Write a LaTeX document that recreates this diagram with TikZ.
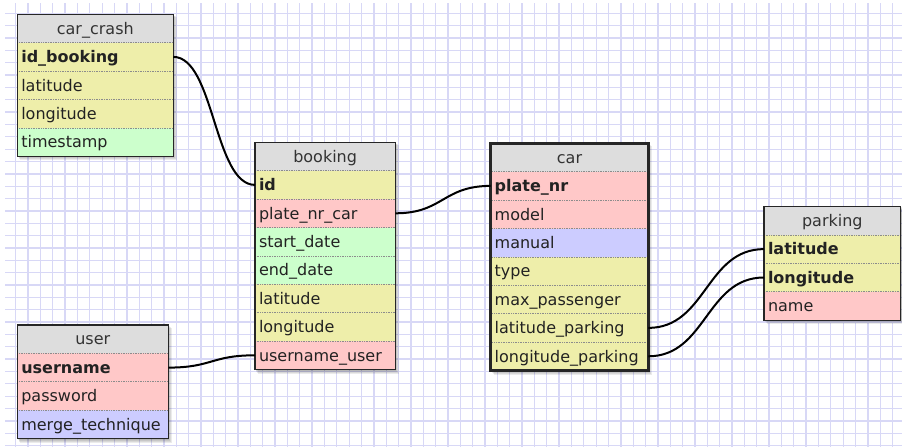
\documentclass[tikz,border=0pt]{standalone}
\usepackage{fontspec}
\setmainfont{DejaVu Sans}
\definecolor{yel}{HTML}{EEEEAA}
\definecolor{pnk}{HTML}{FFC8C8}
\definecolor{grn}{HTML}{CCFFCC}
\definecolor{blu}{HTML}{CCCCFF}
\definecolor{hdrc}{HTML}{DDDDDD}
\definecolor{gridc}{HTML}{D8D8F6}
\definecolor{txt}{HTML}{222222}
\tikzset{
  cellbase/.style={anchor=north west, inner xsep=4pt, inner ysep=0pt, outer sep=0pt,
    minimum height=28.4pt, text height=11.4pt, text depth=0pt,
    font=\fontsize{16}{18}\selectfont, text=txt},
  hdr/.style={cellbase, fill=hdrc, align=center, text=black!80},
  rowbox/.style={cellbase, align=left},
  sepline/.style={densely dotted, draw=black!45, line width=0.7pt},
  gridline/.style={draw=gridc, line width=1.3pt},
  rel/.style={draw=black, line width=2pt},
}
% #1 id, #2 x, #3 y, #4 width, #5 title, #6 nrows, #7 rows, #8 border width
\newcommand{\erTable}[8]{%
  \foreach \k in {1,...,4}{%
    \fill[black,opacity=0.08] ({#2+\k*0.7},{#3+\k*0.7}) rectangle ({#2+#4+\k},{#3+(#6+1)*28.4+\k});
  }
  \pgfmathsetmacro\tw{#4-8}
  \node[hdr, minimum width=#4 pt, text width=\tw pt] (#1-0) at (#2,#3) {#5};
  \foreach \clr/\lbl [count=\i] in {#7}{%
    \node[rowbox, fill=\clr, minimum width=#4 pt, text width=\tw pt] (#1-\i) at (#2,{#3+\i*28.4}) {\lbl};
    \draw[sepline] (#1-\i.north west) -- (#1-\i.north east);
  }
  \draw[draw=black!85, line width=#8] (#1-0.north west) rectangle (#1-#6.south east);
}
\begin{document}
\begin{tikzpicture}[x=1pt, y=-1pt]
\useasboundingbox (0,0) rectangle (902,447);
\fill[white] (0,0) rectangle (902,447);
% grid
\foreach \k in {0,...,72}{\draw[gridline] ({15.7+12.35*\k},3) -- ({15.7+12.35*\k},447);}
\foreach \k in {0,...,35}{\draw[gridline] (5,{13.3+12.35*\k}) -- (902,{13.3+12.35*\k});}
% tables
\erTable{cc}{17.3}{14.3}{156}{car\_crash}{4}{yel/\textbf{id\_booking}, yel/latitude, yel/longitude, grn/timestamp}{1.2pt}
\erTable{bk}{255}{142.3}{140.3}{booking}{7}{yel/\textbf{id}, pnk/plate\_nr\_car, grn/start\_date, grn/end\_date, yel/latitude, yel/longitude, pnk/username\_user}{1.2pt}
\erTable{car}{490.7}{143.3}{157.6}{car}{7}{pnk/\textbf{plate\_nr}, pnk/model, blu/manual, yel/type, yel/max\_passenger, yel/latitude\_parking, yel/longitude\_parking}{2.6pt}
\erTable{pk}{764}{206.5}{136.7}{parking}{3}{yel/\textbf{latitude}, yel/\textbf{longitude}, pnk/name}{1.2pt}
\erTable{us}{17.3}{325}{151}{user}{3}{pnk/\textbf{username}, pnk/password, blu/merge\_technique}{1.2pt}
% relations
\draw[rel] (cc-1.east) .. controls +(41,0) and +(-41,0) .. (bk-1.west);
\draw[rel] (bk-2.east) .. controls +(48,0) and +(-48,0) .. (car-1.west);
\draw[rel] (us-1.east) .. controls +(44,0) and +(-44,0) .. (bk-7.west);
\draw[rel] (car-6.east) .. controls +(58,0) and +(-58,0) .. (pk-1.west);
\draw[rel] (car-7.east) .. controls +(58,0) and +(-58,0) .. (pk-2.west);
\end{tikzpicture}
\end{document}
